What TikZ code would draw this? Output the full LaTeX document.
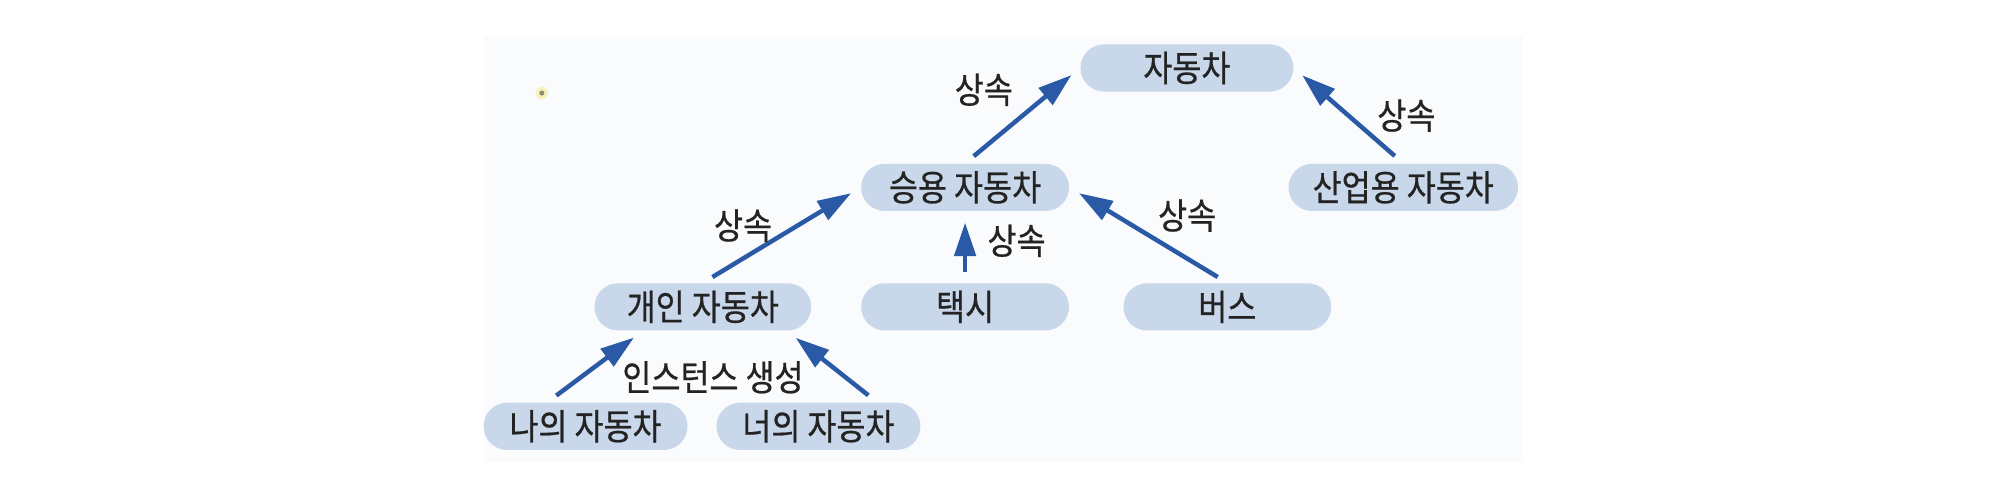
\documentclass[tikz,border=0pt]{standalone}
\usepackage{fontspec}
\setmainfont{Noto Sans CJK KR}[FakeStretch=0.88, FakeBold=0.6]
\usetikzlibrary{arrows.meta,positioning,calc}

\definecolor{nodeblue}{RGB}{200,215,233}
\definecolor{arrowblue}{RGB}{42,90,165}
\definecolor{textgray}{RGB}{35,35,35}
\definecolor{paper}{RGB}{250,251,253}
\definecolor{speck}{RGB}{245,242,190}
\definecolor{speckdot}{RGB}{140,140,110}

\tikzset{
  % rounded boxes for classes and instances
  block/.style={fill=nodeblue, rectangle, rounded corners=0.37cm,
    minimum height=0.74cm, minimum width=3.26cm, inner sep=0pt,
    text=textgray, font=\fontsize{16}{18}\selectfont},
  % text beside the arrows
  lbl/.style={text=textgray, font=\fontsize{16}{18}\selectfont},
  inherit/.style={->, draw=arrowblue, line width=2pt,
    shorten <=5pt, shorten >=5pt}}

\begin{document}
\begin{tikzpicture}[
    >={Triangle[length=15pt,width=9.5pt]}, % long blue heads
    node distance=1.12cm and 0.84cm,       % box spacing
    ]

\useasboundingbox (0,0) rectangle (31.36,7.74);
\fill [paper] (7.6,0.5) rectangle (23.9,7.18);
\fill [speck] (8.5,6.28) circle (0.1);
\fill [speckdot] (8.5,6.28) circle (0.04);

\node (sedan) [block] at (15.14,4.80) {승용 자동차};

\node (car) [block, minimum width=3.34cm, above=of sedan, xshift=3.48cm] {자동차};
\node (industrial) [block, minimum width=3.6cm, right=3.43cm of sedan] {산업용 자동차};

\node (taxi) [block, below=of sedan] {택시};
\node (bus) [block, right=of taxi] {버스};
\node (personal) [block, minimum width=3.4cm, left=0.77cm of taxi] {개인 자동차};

\node (mine) [block, minimum width=3.2cm, below=of personal, xshift=-1.84cm] {나의 자동차};
\node (yours) [block, minimum width=3.2cm, right=0.44cm of mine] {너의 자동차};

\draw [inherit] (sedan.north) -- node [lbl, midway, above left] {상속} (car.west);
\draw [inherit] (industrial.north) -- node [lbl, midway, right, xshift=3mm] {상속} (car.east);
\draw [inherit] (personal.north) -- node [lbl, midway, left, yshift=1.5mm] {상속} (sedan.west);
\draw [inherit] (taxi.north) -- node [lbl, midway, right, xshift=2mm, yshift=1mm] {상속} (sedan.south);
\draw [inherit] (bus.north) -- node [lbl, midway, above right, yshift=-1mm] {상속} (sedan.east);

\draw [inherit] ([xshift=-6mm]mine.north) -- ([xshift=-9.4mm]personal.south);
\draw [inherit] ([xshift=9.2mm]yours.north) -- ([xshift=13.2mm]personal.south);

\node (instance) [lbl, below, yshift=-3.5mm, xshift=1.6mm] at (personal.south) {인스턴스 생성};

\end{tikzpicture}
\end{document}
